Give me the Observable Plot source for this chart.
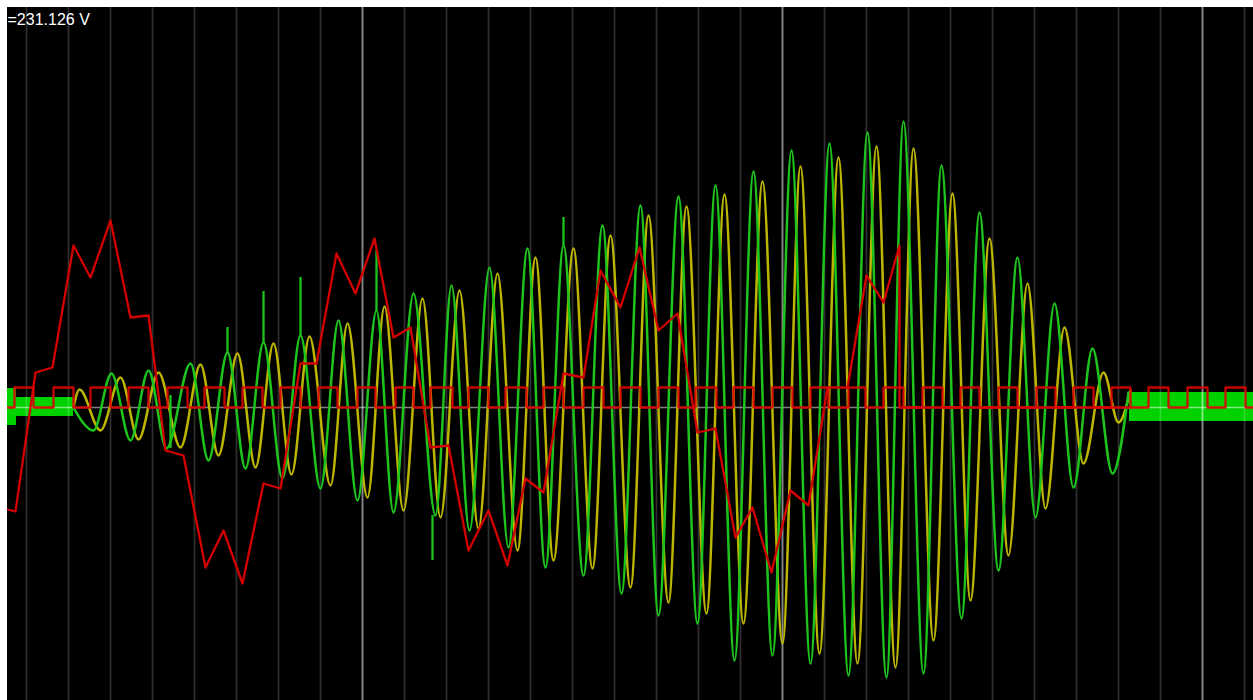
<!DOCTYPE html>
<html>
<head>
<meta charset="utf-8">
<script src="https://cdn.jsdelivr.net/npm/d3@7"></script>
<script src="https://cdn.jsdelivr.net/npm/@observablehq/plot@0.6"></script>
<style>
  html, body { margin: 0; padding: 0; background: #fff; }
  #wrap { position: absolute; left: 7px; top: 7px; width: 1246px; height: 693px; overflow: hidden; background: #000; }
  #wrap svg { display: block; }
</style>
</head>
<body>
<div id="wrap"></div>
<script>
// cursor readout
const readout = ["=231.126 V"];

// vertical grid divisions (sample index)
const gridMinor = [19,61,103,145,187,229,271,313,355,397,439,481,523,565,607,649,691,733,775,817,859,901,943,985,1027,1069,1111,1153,1195,1237];
const gridMajor = [355,775,1195];

// channel 1 (green) extremes: [sample, volts]
const greenT = [66,86,104,123,141,159,183,201,220,238,256,275,293,313,331,350,369,386,406,428,444,462,482,501,520,538,556,576,595,614,633,651,671,690,708,727,746,765,784,803,822,841,860,879,896,916,934,954,972,991,1010,1028,1047,1066,1085,1105,1121];
const greenV = [0,-23,34,-33,37,-41,44,-53,55,-61,65,-71,72,-81,87,-93,97,-105,114,-108,122,-123,140,-140,159,-160,162,-168,182,-186,202,-208,211,-216,222,-253,236,-248,257,-256,264,-268,275,-270,286,-266,242,-211,195,-163,150,-110,104,-80,59,-66,15];

// channel 1 glitches: sample, from, to
const spikeT = [163,220,256,293,369,425,556];
const spikeFrom = [12,55,65,72,97,-108,162];
const spikeTo = [-41,80,116,130,157,-153,190];

// channel 2 (yellow) extremes
const yellowT = [66,72,93,113,131,151,173,193,211,230,248,266,284,302,323,340,360,377,396,415,433,452,471,490,510,528,546,566,585,603,623,641,661,679,699,717,736,755,775,793,812,831,850,869,888,906,926,945,963,982,1001,1020,1038,1057,1076,1096,1111,1123];
const yellowV = [0,18,-23,30,-32,35,-40,43,-48,54,-60,64,-67,71,-78,84,-90,101,-103,109,-110,117,-121,134,-143,150,-153,159,-161,172,-180,192,-195,201,-206,213,-216,226,-236,241,-246,250,-256,261,-260,259,-233,214,-193,169,-148,124,-101,80,-56,35,-15,17];

// channel 3 (red) slow trace
const redT = [0,8,28,45,66,83,103,123,141,158,176,198,216,235,256,273,293,309,329,348,367,386,403,423,441,461,481,500,518,536,556,576,593,613,632,651,670,690,708,728,745,764,783,801,820,840,859,876,892,892,1123];
const redV = [-102,-104,35,40,162,130,187,90,92,-43,-48,-160,-123,-176,-76,-81,44,44,154,114,169,70,80,-40,-38,-143,-103,-158,-71,-85,34,30,137,100,160,77,94,-25,-21,-130,-100,-165,-83,-98,20,20,132,105,162,0,0];

// digital channel (red square wave): rising / falling edges
const riseT = [7,46,83,121,160,197,235,273,311,350,388,423,461,498,536,576,613,651,688,726,765,803,841,876,915,953,991,1029,1066,1104,1141,1180,1218];
const fallT = [26,66,103,141,180,217,255,293,330,368,406,445,481,519,556,596,633,671,709,746,785,821,858,896,935,972,1010,1048,1086,1123,1161,1200,1238];
const digitalHigh = 20;

// noisy (unsynced) channel 1 segments
const bandT0 = [0,9,1122];
const bandT1 = [9,66,1246];
const bandLo = [-18,-9,-14];
const bandHi = [19,10,15];

// ---- build tables ----
const green = greenT.map((t,i)=>({t, v: greenV[i]}));
const yellow = yellowT.map((t,i)=>({t, v: yellowV[i]}));
const red = redT.map((t,i)=>({t, v: redV[i]}));
const spikes = spikeT.map((t,i)=>({t, a: spikeFrom[i], b: spikeTo[i]}));
const bands = bandT0.map((t0,i)=>({t0, t1: bandT1[i], lo: bandLo[i], hi: bandHi[i]}));
const digital = [{t:0, v:0}];
riseT.forEach((r,i)=>{
  digital.push({t:r, v:0},{t:r, v:digitalHigh},{t:fallT[i], v:digitalHigh},{t:fallT[i], v:0});
});
digital.push({t:1246, v:0});

const chart = Plot.plot({
  width: 1246,
  height: 693,
  margin: 0,
  x: {domain: [0, 1246], axis: null},
  y: {domain: [-293, 400], axis: null},
  style: {background: "#000", overflow: "hidden"},
  marks: [
    Plot.rect(bands, {x1: "t0", x2: "t1", y1: "lo", y2: "hi", fill: "#00d200"}),
    Plot.ruleX(gridMinor, {stroke: "#fff", strokeOpacity: 0.19, strokeWidth: 1.7}),
    Plot.ruleX(gridMajor, {stroke: "#fff", strokeOpacity: 0.42, strokeWidth: 1.9}),
    Plot.ruleY([0], {stroke: "#fff", strokeOpacity: 0.5, strokeWidth: 1.7}),
    Plot.line(yellow, {x: "t", y: "v", curve: "monotone-x", stroke: "#bcb600", strokeWidth: 2.5}),
    Plot.line(green, {x: "t", y: "v", curve: "monotone-x", stroke: "#1cc41c", strokeWidth: 2.5}),
    Plot.ruleX(spikes, {x: "t", y1: "a", y2: "b", stroke: "#1cc41c", strokeWidth: 2.3}),
    Plot.line(red, {x: "t", y: "v", stroke: "#d40000", strokeWidth: 2.3}),
    Plot.line(digital, {x: "t", y: "v", stroke: "#dc0000", strokeWidth: 2.3, strokeOpacity: 0.9}),
    Plot.text(readout, {frameAnchor: "top-left", text: d => d, dx: 0, dy: 6, fill: "#fff", fontSize: 16, fontFamily: "Liberation Sans, Arial, sans-serif", textAnchor: "start", lineAnchor: "top"})
  ]
});
document.getElementById("wrap").appendChild(chart);
</script>
</body>
</html>
